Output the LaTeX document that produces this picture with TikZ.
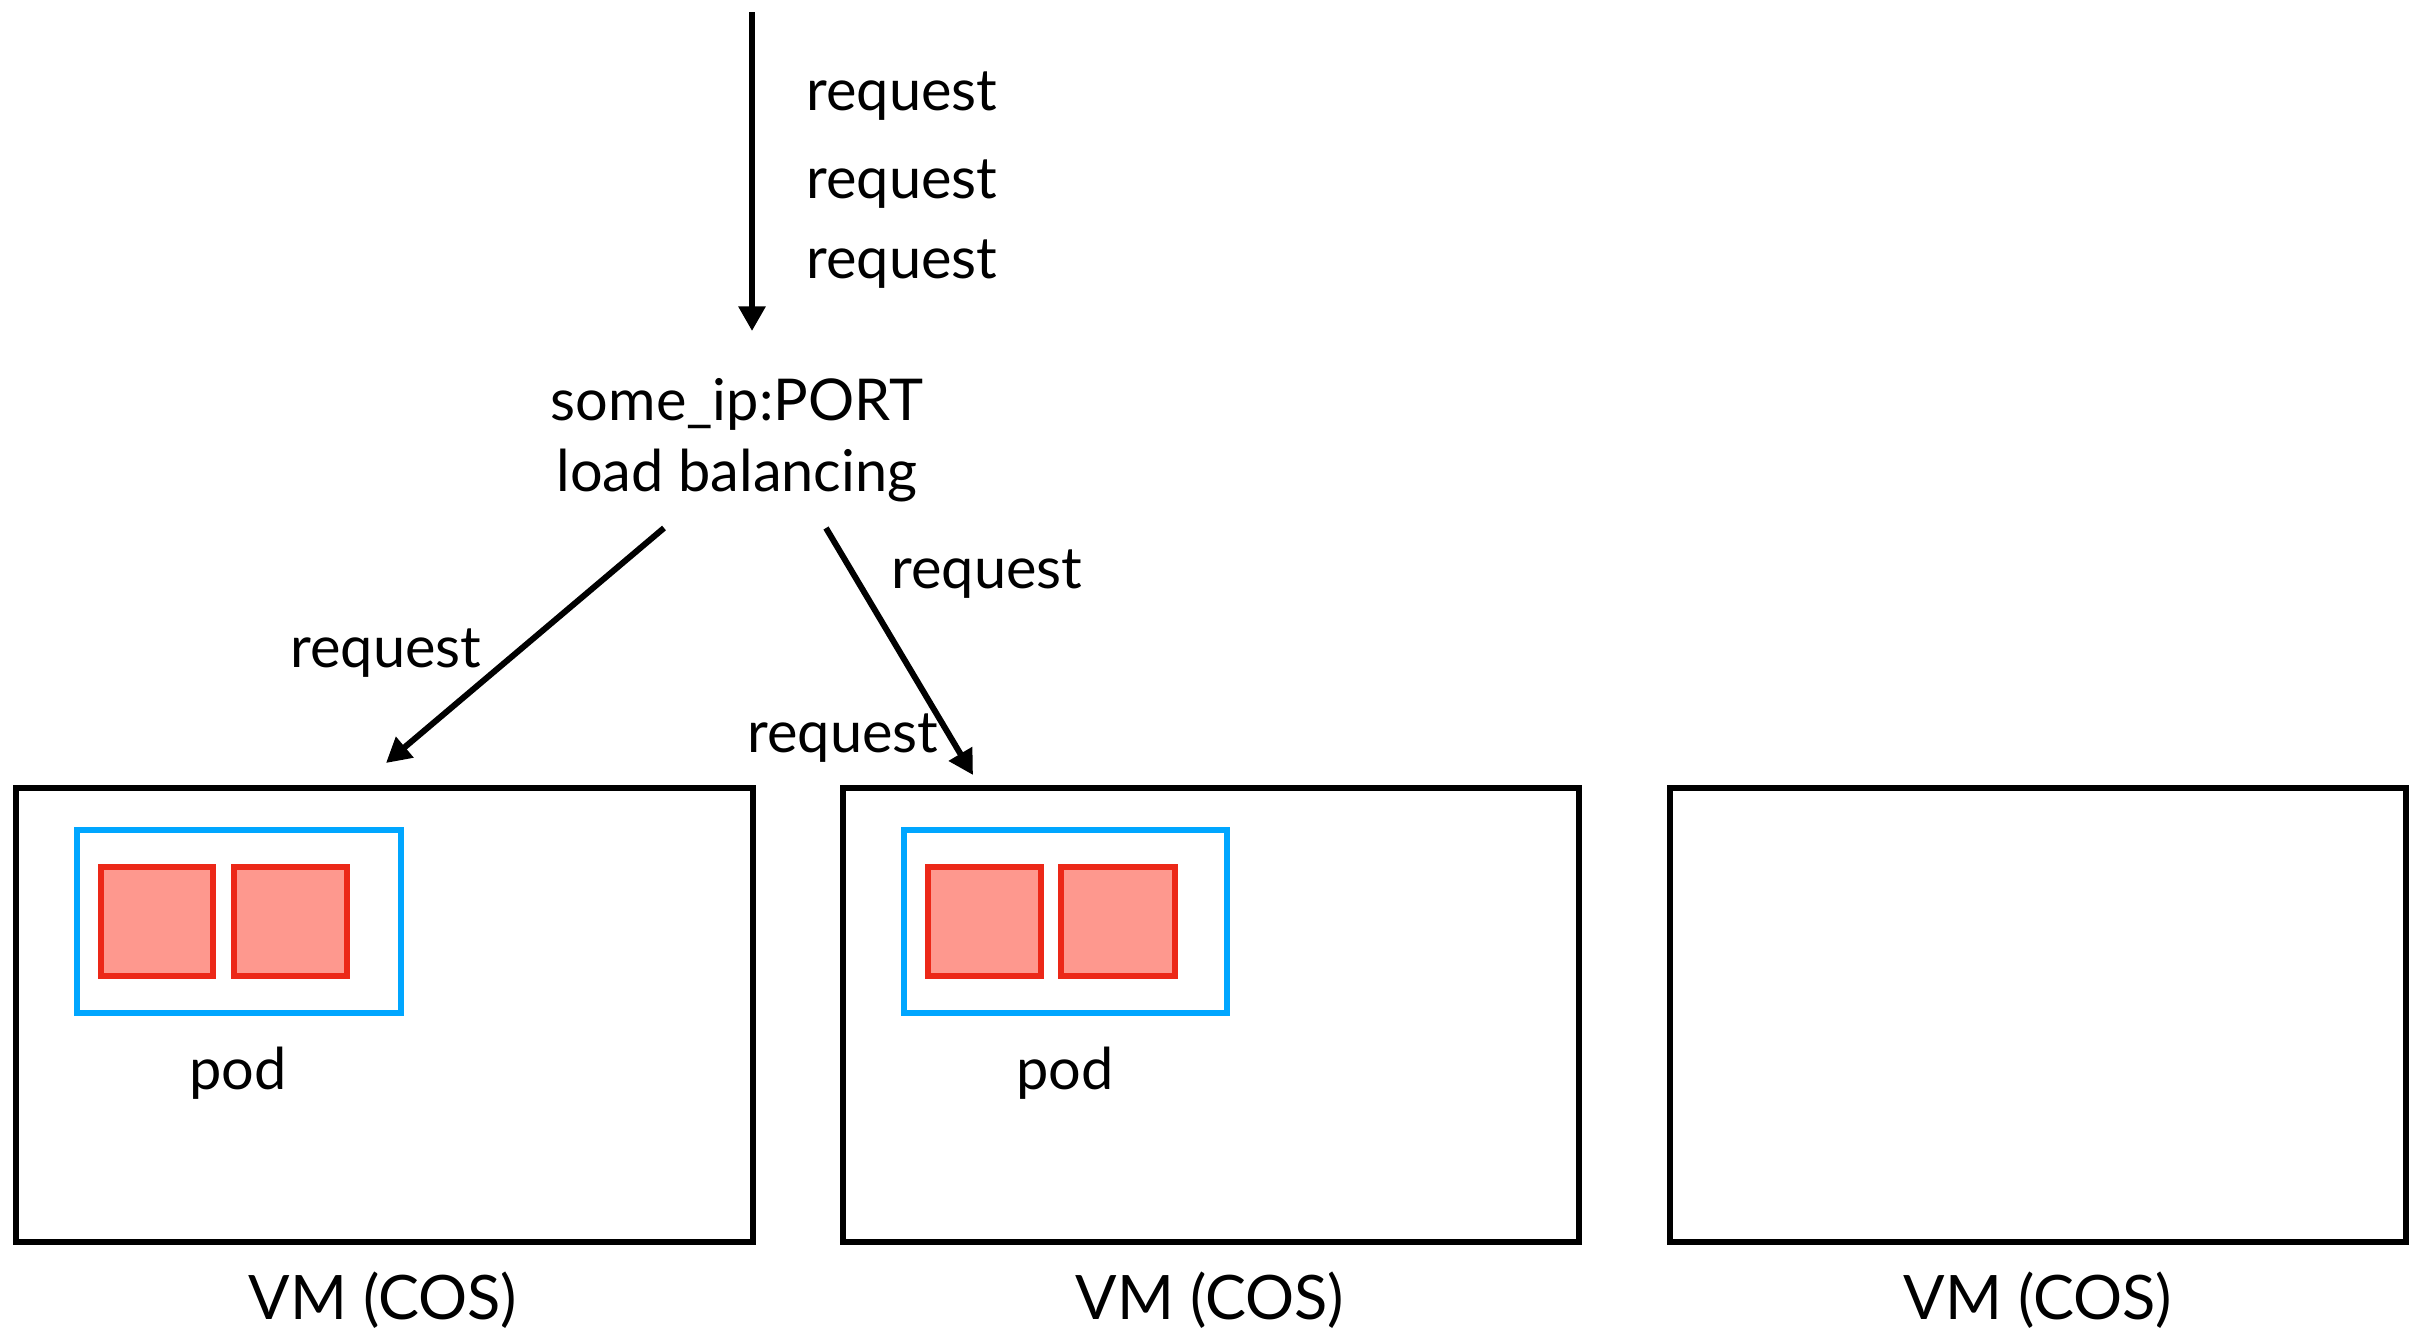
\documentclass[tikz,border=0pt]{standalone}
\usepackage{fontspec}
\setmainfont{Lato}
\usetikzlibrary{arrows.meta}
\definecolor{podblue}{RGB}{0,166,255}
\definecolor{ctrred}{RGB}{236,40,24}
\definecolor{ctrfill}{RGB}{254,152,142}
\tikzset{
  lbl/.style={font=\fontsize{17.3}{21}\selectfont, inner sep=0pt},
  vmlbl/.style={font=\fontsize{18.4}{22}\selectfont, inner sep=0pt},
  conn/.style={line width=1.8pt, -{Triangle[length=7.4pt,width=7.8pt]}},
  vmbox/.style={draw=black, line width=1.75pt},
  podbox/.style={draw=podblue, line width=1.8pt},
  ctr/.style={draw=ctrred, fill=ctrfill, line width=1.7pt},
}
\begin{document}
\begin{tikzpicture}[x=0.3pt, y=-0.3pt]
\useasboundingbox (0,0) rectangle (2421,1334);
% VM boxes
\draw[vmbox] (16,788) rectangle (753,1242);
\draw[vmbox] (843,788) rectangle (1579,1242);
\draw[vmbox] (1670,788) rectangle (2406,1242);
\coordinate (vm1) at (383,788);
\coordinate (vm2) at (1210,788);
% pods
\draw[podbox] (77,830) rectangle (401,1013);
\draw[ctr] (101,867) rectangle (213,976);
\draw[ctr] (234,867) rectangle (347,976);
\draw[podbox] (904,830) rectangle (1227,1013);
\draw[ctr] (928,867) rectangle (1041,976);
\draw[ctr] (1061,867) rectangle (1175,976);
\node[lbl, anchor=base] (pod1) at (238,1089) {pod};
\node[lbl, anchor=base] (pod2) at (1065,1089) {pod};
\node[vmlbl, anchor=base] (vmt1) at (383,1319) {VM (COS)};
\node[vmlbl, anchor=base] (vmt2) at (1210,1319) {VM (COS)};
\node[vmlbl, anchor=base] (vmt3) at (2038,1319) {VM (COS)};
% load balancer
\node[lbl, anchor=base] (ip) at (737,420) {some\_ip:PORT};
\node[lbl, anchor=base] (lb) at (737,491) {load balancing};
% incoming requests
\coordinate (src) at (752,12);
\coordinate (in) at (752,331);
\draw[conn] (src) -- (in);
\node[lbl, anchor=base west] (r1) at (806,110) {request};
\node[lbl, anchor=base west] (r2) at (806,198) {request};
\node[lbl, anchor=base west] (r3) at (806,278) {request};
% outgoing
\coordinate (o1) at (664,528);
\coordinate (t1) at (386,763);
\coordinate (o2) at (826,528);
\coordinate (t2) at (973,775);
\draw[conn] (o1) -- (t1);
\draw[conn] (o2) -- (t2);
\node[lbl, anchor=base west] (r4) at (290,667) {request};
\node[lbl, anchor=base west] (r5) at (891,588) {request};
\node[lbl, anchor=base west] (r6) at (747,752) {request};
\end{tikzpicture}
\end{document}
